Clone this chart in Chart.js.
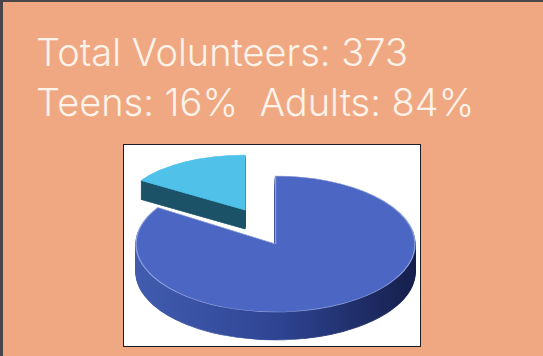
<!DOCTYPE html>
<html lang="en">
<head>
    <meta charset="UTF-8">
    <title>Volunteers</title>
    <script src="https://cdn.jsdelivr.net/npm/chart.js"></script>
    <style>
        html, body {
            margin: 0;
            padding: 0;
            background: #f0a882;
            overflow: hidden;
        }
        #slide {
            position: relative;
            width: 543px;
            height: 356px;
            box-sizing: border-box;
            border-top: 2px solid #4a4548;
            border-left: 3px solid #4a4548;
            font-family: "Inter", "Open Sans", sans-serif;
            font-weight: 300;
            color: #fdf3ea;
        }
        .line {
            position: absolute;
            left: 33px;
            font-size: 38px;
            line-height: 44px;
            white-space: pre;
        }
        #frame {
            position: absolute;
            left: 120px;
            top: 142px;
            width: 296px;
            height: 201px;
            background: #fff;
            border: 1px solid #1c1c24;
        }
        canvas { display: block; }
    </style>
</head>
<body>
    <div id="slide">
        <div class="line" id="total" style="top:28px"></div>
        <div class="line" id="split" style="top:78px"></div>
        <div id="frame"><canvas id="chart" width="296" height="201"></canvas></div>
    </div>

    <script>
        const totalVolunteers = 373;
        const categories = ["Adults", "Teens"];
        const shares = [84, 16];

        document.getElementById("total").textContent = "Total Volunteers: " + totalVolunteers;
        document.getElementById("split").textContent =
            categories[1] + ": " + shares[1] + "%  " + categories[0] + ": " + shares[0] + "%";

        // how each slice sits on the tilted plane (px inside the canvas)
        const sliceLook = [
            { cx: 151.5, cy: 99, rx: 139.5, ry: 68, depth: 28,
              top: "#4b67c3", rim: "#8d9fdc", wall: ["#415cae", "#2f4594", "#161f4c"] },
            { cx: 121, cy: 65, rx: 123, ry: 55, depth: 19,
              top: "#50c2ea", rim: "#50c2ea", wall: ["#1c5267", "#1c5267", "#1c5267"] }
        ];

        function paint(ctx, arc, look, yShift, fill, stroke, lineWidth) {
            const copy = Object.create(arc);
            copy.options = Object.assign({}, arc.options, {
                backgroundColor: fill,
                borderColor: stroke,
                borderWidth: lineWidth
            });
            const r = arc.outerRadius;
            ctx.save();
            ctx.translate(look.cx, look.cy + yShift);
            ctx.scale(look.rx / r, look.ry / r);
            ctx.translate(-arc.x, -arc.y);
            copy.draw(ctx);
            ctx.restore();
        }

        // Chart.js has no 3D pie, so the arcs get tilted and extruded here
        const tiltedPie = {
            id: "tiltedPie",
            beforeDatasetsDraw(chart) {
                const ctx = chart.ctx;
                const arcs = chart.getDatasetMeta(0).data;
                // back slice first, the big one overlaps its wall
                [1, 0].forEach(i => {
                    const arc = arcs[i];
                    const look = sliceLook[i];
                    const r = arc.outerRadius;
                    const grad = ctx.createLinearGradient(arc.x - r, 0, arc.x + r, 0);
                    grad.addColorStop(0, look.wall[0]);
                    grad.addColorStop(0.5, look.wall[1]);
                    grad.addColorStop(1, look.wall[2]);
                    for (let y = look.depth; y > 0; y--) {
                        paint(ctx, arc, look, y, grad, grad, 1);
                    }
                    paint(ctx, arc, look, 0, look.top, look.rim, 1);
                });
                return false;
            }
        };

        new Chart(document.getElementById("chart").getContext("2d"), {
            type: "pie",
            data: {
                labels: categories,
                datasets: [{
                    data: shares,
                    backgroundColor: ["#4b67c3", "#50c2ea"],
                    borderWidth: 0
                }]
            },
            options: {
                responsive: false,
                animation: false,
                layout: { padding: 0 },
                plugins: {
                    legend: { display: false },
                    tooltip: { enabled: false }
                }
            },
            plugins: [tiltedPie]
        });
    </script>
</body>
</html>
